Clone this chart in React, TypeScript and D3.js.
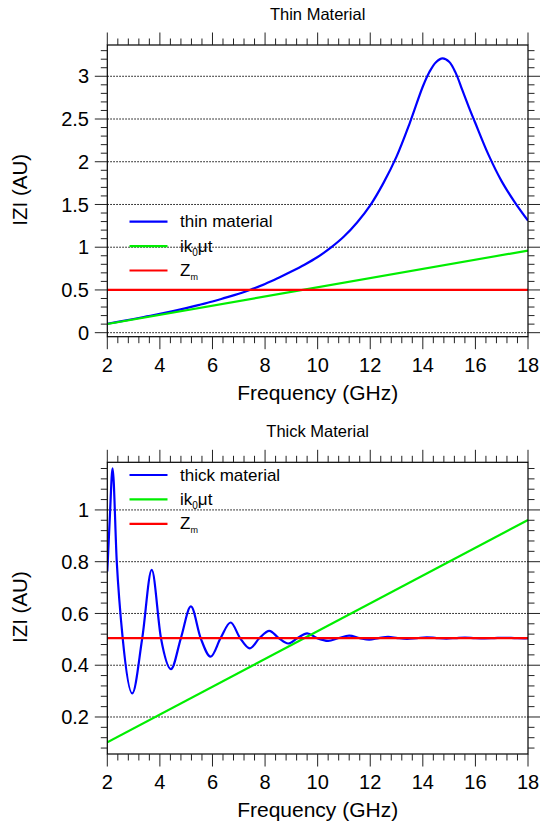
import React from "react";
import * as d3 from "d3";

// ---------- data ----------
const thinFreq = [2, 2.5, 3, 3.5, 4, 4.5, 5, 5.5, 6, 6.5, 7, 7.5, 8, 8.5, 9, 9.5, 10, 10.5, 11, 11.5, 12, 12.5, 13, 13.5, 14, 14.25, 14.5, 14.75, 15, 15.25, 15.5, 15.75, 16, 16.5, 17, 17.5, 18];
const thinZ = [0.105, 0.132, 0.16, 0.19, 0.22, 0.252, 0.287, 0.325, 0.365, 0.41, 0.455, 0.51, 0.57, 0.64, 0.715, 0.795, 0.885, 0.995, 1.125, 1.29, 1.49, 1.75, 2.06, 2.45, 2.88, 3.05, 3.165, 3.21, 3.17, 3.04, 2.84, 2.64, 2.45, 2.08, 1.77, 1.525, 1.31];

const thickFreq = [2, 2.1, 2.2, 2.36, 2.585, 2.95, 3.33, 3.69, 4.04, 4.42, 4.8, 5.18, 5.55, 5.93, 6.31, 6.69, 7.05, 7.42, 7.79, 8.16, 8.52, 8.88, 9.24, 9.6, 9.97, 10.4, 10.8, 11.2, 11.6, 11.96, 12.32, 12.68, 13.04, 13.4, 13.78, 14.15, 14.52, 14.9, 15.25, 15.6, 15.98, 16.35, 16.72, 17.1, 17.48, 17.85, 18];
const thickZ = [0.762, 0.98, 1.161, 0.8, 0.505, 0.291, 0.505, 0.768, 0.505, 0.385, 0.505, 0.627, 0.505, 0.433, 0.505, 0.565, 0.505, 0.465, 0.505, 0.533, 0.505, 0.484, 0.505, 0.523, 0.505, 0.494, 0.505, 0.514, 0.505, 0.499, 0.505, 0.51, 0.505, 0.502, 0.505, 0.508, 0.505, 0.503, 0.505, 0.507, 0.505, 0.504, 0.505, 0.506, 0.505, 0.504, 0.505];

const lineFreq = [2, 18];
const ik0Values = [0.102, 0.961];
const zmThin = [0.5, 0.5];
const zmThick = [0.505, 0.505];

const xTicks = [2, 4, 6, 8, 10, 12, 14, 16, 18];
const thinYTicks = [0, 0.5, 1, 1.5, 2, 2.5, 3];
const thickYTicks = [0.2, 0.4, 0.6, 0.8, 1];
const thinYTickLabels = ["0", "0.5", "1", "1.5", "2", "2.5", "3"];
const thickYTickLabels = ["0.2", "0.4", "0.6", "0.8", "1"];

const FONT = "'Liberation Sans', Arial, Helvetica, sans-serif";
const BLUE = "#0000ff";
const GREEN = "#00ee00";
const RED = "#ff0000";

type Series = { f: number[]; z: number[]; color: string; curve: d3.CurveFactory };

function Panel(props: {
  id: string;
  top: number;
  title: string;
  yDomain: [number, number];
  yTicks: number[];
  yTickLabels: string[];
  yMinorStep: number;
  series: Series[];
  legendLabel: string;
  legendTop: number;
}) {
  const { id, top, title, yDomain, yTicks, yTickLabels, yMinorStep, series, legendLabel, legendTop } = props;
  const left = 107.3;
  const right = 528;
  const bottom = top + 291.7;
  const x = d3.scaleLinear().domain([2, 18]).range([left, right]);
  const y = d3.scaleLinear().domain(yDomain).range([bottom, top]);

  const xMinor = d3.range(2, 18.001, 0.4).filter((v) => Math.abs(v / 2 - Math.round(v / 2)) > 1e-6);
  const yMinorAll: number[] = [];
  const start = Math.ceil(yDomain[0] / yMinorStep - 1e-6);
  const end = Math.floor(yDomain[1] / yMinorStep + 1e-6);
  for (let i = start; i <= end; i++) {
    const v = i * yMinorStep;
    if (!yTicks.some((t) => Math.abs(t - v) < 1e-6)) yMinorAll.push(v);
  }

  const makePath = (s: Series) =>
    d3
      .line<[number, number]>()
      .x((d) => x(d[0]))
      .y((d) => y(d[1]))
      .curve(s.curve)(s.f.map((f, i) => [f, s.z[i]] as [number, number])) || "";

  const tickColor = "#222";
  const MAJ = 12.5;
  const MIN = 6.5;
  const cx = (left + right) / 2;
  const cy = (top + bottom) / 2;

  const legendItems = [
    { color: BLUE, key: "a" },
    { color: GREEN, key: "b" },
    { color: RED, key: "c" },
  ];

  return (
    <g>
      <defs>
        <clipPath id={`clip-${id}`}>
          <rect x={left} y={top} width={right - left} height={bottom - top} />
        </clipPath>
      </defs>
      <text x={cx} y={top - 25} textAnchor="middle" fontFamily={FONT} fontSize={16.5} fill="#000">
        {title}
      </text>
      {yTicks.map((t) => (
        <line key={`g${t}`} x1={left} x2={right} y1={y(t)} y2={y(t)} stroke="#000" strokeWidth={1} strokeDasharray="1.5,1.5" />
      ))}
      <g clipPath={`url(#clip-${id})`}>
        {series.map((s, i) => (
          <path key={i} d={makePath(s)} fill="none" stroke={s.color} strokeWidth={2.2} />
        ))}
      </g>
      <rect x={left} y={top} width={right - left} height={bottom - top} fill="none" stroke="#000" strokeWidth={1.2} />
      {xTicks.map((t) => (
        <g key={`xt${t}`}>
          <line x1={x(t)} x2={x(t)} y1={bottom} y2={bottom + MAJ} stroke={tickColor} />
          <line x1={x(t)} x2={x(t)} y1={top} y2={top - MAJ} stroke={tickColor} />
          <text x={x(t)} y={bottom + 35} textAnchor="middle" fontFamily={FONT} fontSize={20} fill="#000">
            {t}
          </text>
        </g>
      ))}
      {xMinor.map((t) => (
        <g key={`xm${t.toFixed(2)}`}>
          <line x1={x(t)} x2={x(t)} y1={bottom} y2={bottom + MIN} stroke={tickColor} />
          <line x1={x(t)} x2={x(t)} y1={top} y2={top - MIN} stroke={tickColor} />
        </g>
      ))}
      {yTicks.map((t, i) => (
        <g key={`yt${t}`}>
          <line x1={left} x2={left - MAJ} y1={y(t)} y2={y(t)} stroke={tickColor} />
          <line x1={right} x2={right + MAJ} y1={y(t)} y2={y(t)} stroke={tickColor} />
          <text x={89} y={y(t)} dy="0.36em" textAnchor="end" fontFamily={FONT} fontSize={20} fill="#000">
            {yTickLabels[i]}
          </text>
        </g>
      ))}
      {yMinorAll.map((t) => (
        <g key={`ym${t.toFixed(3)}`}>
          <line x1={left} x2={left - MIN} y1={y(t)} y2={y(t)} stroke={tickColor} />
          <line x1={right} x2={right + MIN} y1={y(t)} y2={y(t)} stroke={tickColor} />
        </g>
      ))}
      <text x={cx} y={bottom + 63} textAnchor="middle" fontFamily={FONT} fontSize={21} fill="#000">
        Frequency (GHz)
      </text>
      <text
        transform={`translate(27,${cy - 1}) rotate(-90)`}
        textAnchor="middle"
        fontFamily={FONT}
        fontSize={20.5}
        fill="#000"
      >
        IZI (AU)
      </text>
      {legendItems.map((it, i) => {
        const ly = legendTop + i * 24.4;
        return (
          <g key={it.key}>
            <line x1={129.5} x2={167.5} y1={ly} y2={ly} stroke={it.color} strokeWidth={2.2} />
            <text x={180} y={ly + 5.5} fontFamily={FONT} fontSize={17} fill="#000">
              {i === 0 && legendLabel}
              {i === 1 && (
                <>
                  ik
                  <tspan fontSize={10} dy="4">0</tspan>
                  <tspan dy="-4">μt</tspan>
                </>
              )}
              {i === 2 && (
                <>
                  Z
                  <tspan fontSize={9} dy="4">m</tspan>
                </>
              )}
            </text>
          </g>
        );
      })}
    </g>
  );
}

export default function App() {
  const lineF = lineFreq;
  return (
    <svg
      width={540}
      height={823}
      viewBox="0 0 540 823"
      style={{ position: "absolute", left: 0, top: 0, background: "#fff" }}
    >
      <rect x={0} y={0} width={540} height={823} fill="#fff" />
      <Panel
        id="thin"
        top={45}
        title="Thin Material"
        yDomain={[-0.047, 3.366]}
        yTicks={thinYTicks}
        yTickLabels={thinYTickLabels}
        yMinorStep={0.1}
        series={[
          { f: thinFreq, z: thinZ, color: BLUE, curve: d3.curveCatmullRom.alpha(0.5) },
          { f: lineF, z: ik0Values, color: GREEN, curve: d3.curveLinear },
          { f: lineF, z: zmThin, color: RED, curve: d3.curveLinear },
        ]}
        legendLabel="thin material"
        legendTop={221.7}
      />
      <Panel
        id="thick"
        top={462.3}
        title="Thick Material"
        yDomain={[0.057, 1.184]}
        yTicks={thickYTicks}
        yTickLabels={thickYTickLabels}
        yMinorStep={0.04}
        series={[
          { f: thickFreq, z: thickZ, color: BLUE, curve: d3.curveMonotoneX },
          { f: lineF, z: ik0Values, color: GREEN, curve: d3.curveLinear },
          { f: lineF, z: zmThick, color: RED, curve: d3.curveLinear },
        ]}
        legendLabel="thick material"
        legendTop={475}
      />
    </svg>
  );
}
